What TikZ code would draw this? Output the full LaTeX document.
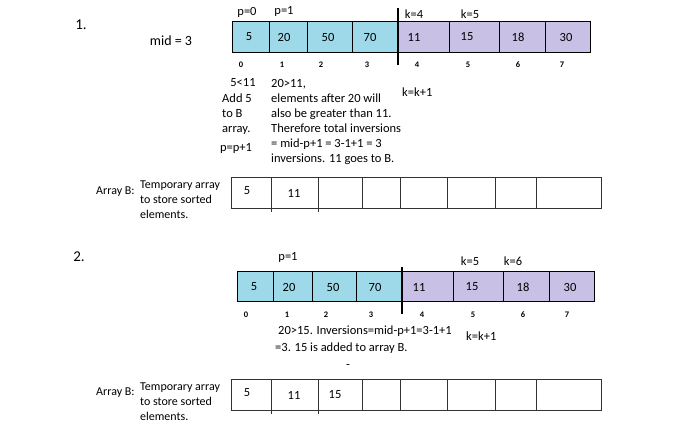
\documentclass[tikz,border=0pt]{standalone}
\usepackage{fontspec}
\setmainfont{Carlito}
\definecolor{leftblue}{RGB}{157,217,232}
\definecolor{rightlilac}{RGB}{201,192,230}
\tikzset{
  txt/.style={inner sep=0pt,font=\fontsize{12.5}{15}\selectfont},
  idx/.style={inner sep=0pt,font=\fontsize{8.5}{10}\selectfont\bfseries},
  cell/.style={draw=black,line width=0.9pt},
  bcell/.style={draw=black!80,line width=1pt},
}
\begin{document}
\begin{tikzpicture}[x=1pt,y=-1pt]
\useasboundingbox (0,0) rectangle (700,447);
% step 1
\node[txt,font=\fontsize{15}{16}\selectfont] (one) at (81,25) {1.};
\node[txt,font=\fontsize{14}{16}\selectfont] (mid) at (171,41) {mid = 3};
\foreach \l/\r/\v/\t [count=\i] in {232/269/5/249,269/307/20/284,307/352/50/328,352/398/70/370} {
  \filldraw[cell,fill=leftblue] (\l,21) rectangle (\r,52);
  \node[txt] (a\i) at (\t,37) {\v};
}
\foreach \l/\r/\v/\t [count=\i from 5] in {398/449/11/414,449/499/15/467,499/545/18/518,545/590/30/566} {
  \filldraw[cell,fill=rightlilac] (\l,21) rectangle (\r,52);
  \node[txt] (a\i) at (\t,37) {\v};
}
\draw[line width=2.2pt] (398,8) -- (398,65);
\foreach \x [count=\i from 0] in {241,282,321,367,417,468,518,562}
  \node[idx] (ia\i) at (\x,65) {\i};
\node[txt] (p0) at (247,12) {p=0};
\node[txt] (p1) at (284,11) {p=1};
\node[txt] (k4) at (414,14) {k=4};
\node[txt] (k5) at (470,14) {k=5};
\node[txt] (cmp) at (243,83) {5<11};
\node[txt,align=left,anchor=north west] (add) at (222,94) {Add 5\\to B\\array.};
\node[txt] (pinc) at (236,148) {p=p+1};
\node[txt,align=left,anchor=north west] (why) at (271,79) {20>11,\\elements after 20 will\\also be greater than 11.\\Therefore total inversions\\= mid-p+1 = 3-1+1 = 3\\inversions. 11 goes to B.};
\node[txt,anchor=west] (kinc) at (402,92) {k=k+1};
% array B after step 1
\node[txt,font=\fontsize{12}{15}\selectfont,anchor=west] (arrb) at (96,192) {Array B:};
\node[txt,font=\fontsize{12}{15}\selectfont,align=left,anchor=north west] (tmp) at (140,181) {Temporary array\\to store sorted\\elements.};
\foreach \l/\r [count=\i] in {231/271,271/318,318/362,362/400,400/447,447/495,495/536,536/601}
  \draw[bcell] (\l,177) rectangle (\r,208);
\draw[bcell] (271,208) -- (271,212) (318,208) -- (318,212);
\node[txt] (b1) at (247,191) {5};
\node[txt] (b2) at (294,193) {11};
% step 2
\node[txt,font=\fontsize{15}{16}\selectfont] (two) at (79,257) {2.};
\foreach \l/\r/\v/\t [count=\i] in {237/273/5/254,273/312/20/289,312/356/50/333,356/402/70/375} {
  \filldraw[cell,fill=leftblue] (\l,271) rectangle (\r,301);
  \node[txt] (c\i) at (\t,287) {\v};
}
\foreach \l/\r/\v/\t [count=\i from 5] in {402/453/11/419,453/503/15/472,503/549/18/523,549/594/30/570} {
  \filldraw[cell,fill=rightlilac] (\l,271) rectangle (\r,301);
  \node[txt] (c\i) at (\t,287) {\v};
}
\draw[line width=2.2pt] (402,267) -- (402,314);
\foreach \x [count=\i from 0] in {246,287,326,371,422,473,523,567}
  \node[idx] (ic\i) at (\x,315) {\i};
\node[txt] (q1) at (288,257) {p=1};
\node[txt] (m5) at (470,261) {k=5};
\node[txt] (m6) at (513,261) {k=6};
\node[txt,anchor=west] (inv1) at (278,331) {20>15. Inversions=mid-p+1=3-1+1};
\node[txt,anchor=west] (inv2) at (275,348) {=3. 15 is added to array B.};
\node[txt,anchor=west] (minc) at (466,336) {k=k+1};
\node[txt] (dash) at (348,366) {-};
% array B after step 2
\node[txt,font=\fontsize{12}{15}\selectfont,anchor=west] (arrc) at (96,393) {Array B:};
\node[txt,font=\fontsize{12}{15}\selectfont,align=left,anchor=north west] (tmq) at (140,383) {Temporary array\\to store sorted\\elements.};
\foreach \l/\r [count=\i] in {231/271,271/318,318/362,362/400,400/447,447/495,495/536,536/601}
  \draw[bcell] (\l,379) rectangle (\r,410);
\draw[bcell] (271,410) -- (271,414) (318,410) -- (318,414);
\node[txt] (d1) at (247,393) {5};
\node[txt] (d2) at (294,395) {11};
\node[txt] (d3) at (335,395) {15};
\end{tikzpicture}
\end{document}
